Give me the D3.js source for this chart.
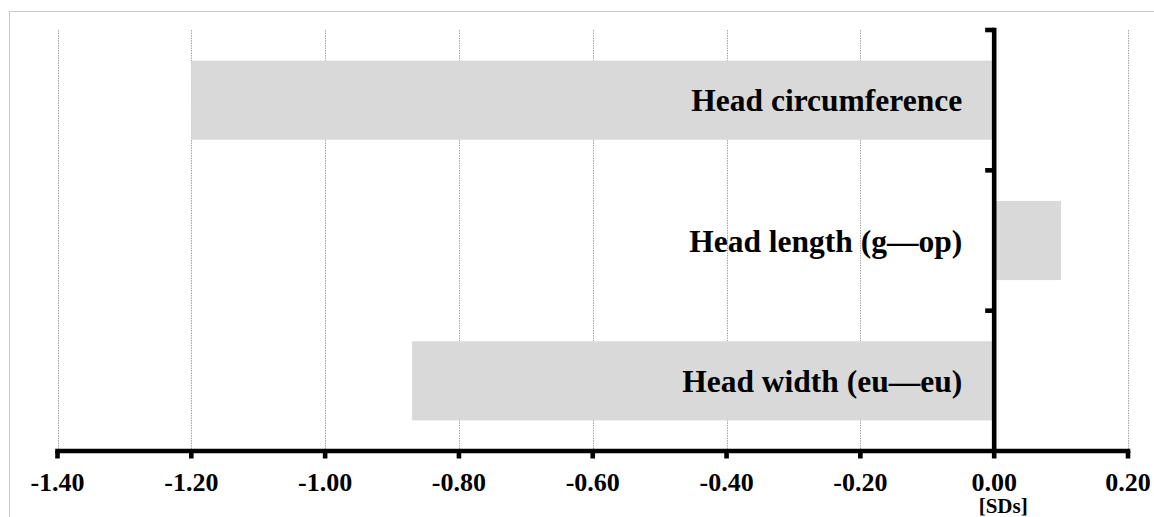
<!DOCTYPE html>
<html>
<head>
<meta charset="utf-8">
<script src="https://cdn.jsdelivr.net/npm/d3@7"></script>
<style>
  html, body { margin: 0; padding: 0; background: #fff; }
  svg { display: block; }
  text { font-family: "Liberation Serif", "Times New Roman", serif; font-weight: bold; fill: #000; }
</style>
</head>
<body>
<svg id="chart" width="1154" height="517"></svg>
<script>
// ---- data ----
const categories = ["Head circumference", "Head length (g\u2014op)", "Head width (eu\u2014eu)"];
const values = [-1.20, 0.10, -0.87];
const xTicks = [-1.40, -1.20, -1.00, -0.80, -0.60, -0.40, -0.20, 0.00, 0.20];
const xTickLabels = ["-1.40", "-1.20", "-1.00", "-0.80", "-0.60", "-0.40", "-0.20", "0.00", "0.20"];
const xUnit = "[SDs]";

// ---- layout ----
const plotLeft = 57.5, plotRight = 1128, plotTop = 30, plotBottom = 451;

const svg = d3.select("#chart");

// outer frame
svg.append("rect")
  .attr("x", 9.5).attr("y", 11.5)
  .attr("width", 2000).attr("height", 2000)
  .attr("fill", "none").attr("stroke", "#c8c8c8").attr("stroke-width", 1);

const x = d3.scaleLinear().domain([-1.40, 0.20]).range([plotLeft, plotRight]);
const y = d3.scaleBand().domain(categories).range([plotTop, plotBottom])
  .paddingInner(0.436).paddingOuter(0.218);

// gridlines (dotted)
svg.append("g").selectAll("line")
  .data(xTicks.filter(t => t !== 0))
  .join("line")
  .attr("x1", d => Math.round(x(d)) + 0.5).attr("x2", d => Math.round(x(d)) + 0.5)
  .attr("y1", plotTop).attr("y2", plotBottom)
  .attr("stroke", "#a6a6a6").attr("stroke-width", 1)
  .attr("stroke-dasharray", "1.5,1");

// bars
svg.append("g").selectAll("rect")
  .data(categories)
  .join("rect")
  .attr("x", (d, i) => x(Math.min(0, values[i])))
  .attr("width", (d, i) => Math.abs(x(values[i]) - x(0)))
  .attr("y", d => y(d))
  .attr("height", y.bandwidth())
  .attr("fill", "#d9d9d9");

// x axis
const xAxis = svg.append("g").attr("transform", `translate(0,${plotBottom})`);
xAxis.append("line")
  .attr("x1", x(-1.40) - 2.3).attr("x2", x(0.20) + 2.3)
  .attr("y1", 0).attr("y2", 0)
  .attr("stroke", "#000").attr("stroke-width", 4.6);
xAxis.selectAll("line.tick")
  .data(xTicks)
  .join("line").attr("class", "tick")
  .attr("x1", d => x(d)).attr("x2", d => x(d))
  .attr("y1", 0).attr("y2", 7.5)
  .attr("stroke", "#000").attr("stroke-width", 4.6);
xAxis.selectAll("text")
  .data(xTicks)
  .join("text")
  .attr("x", d => x(d)).attr("y", 40)
  .attr("text-anchor", "middle")
  .style("font-size", "26px")
  .text((d, i) => xTickLabels[i]);
svg.append("text")
  .attr("x", x(0) + 9).attr("y", 513)
  .attr("text-anchor", "middle")
  .style("font-size", "21px")
  .text(xUnit);

// y axis
const yAxis = svg.append("g");
const x0 = x(0);
yAxis.append("line")
  .attr("x1", x0).attr("x2", x0)
  .attr("y1", plotTop - 2.3).attr("y2", plotBottom)
  .attr("stroke", "#000").attr("stroke-width", 4.6);
const bandEdges = categories.map(c => y(c) - y.step() * y.paddingOuter());
yAxis.selectAll("line.tick")
  .data(bandEdges)
  .join("line").attr("class", "tick")
  .attr("x1", x0).attr("x2", x0 - 9)
  .attr("y1", d => d).attr("y2", d => d)
  .attr("stroke", "#000").attr("stroke-width", 4.6);

// category labels
svg.append("g").selectAll("text")
  .data(categories)
  .join("text")
  .attr("x", x0 - 32)
  .attr("y", d => y(d) + y.bandwidth() / 2 + 11)
  .attr("text-anchor", "end")
  .style("font-size", "31.5px")
  .text(d => d);
</script>
</body>
</html>
